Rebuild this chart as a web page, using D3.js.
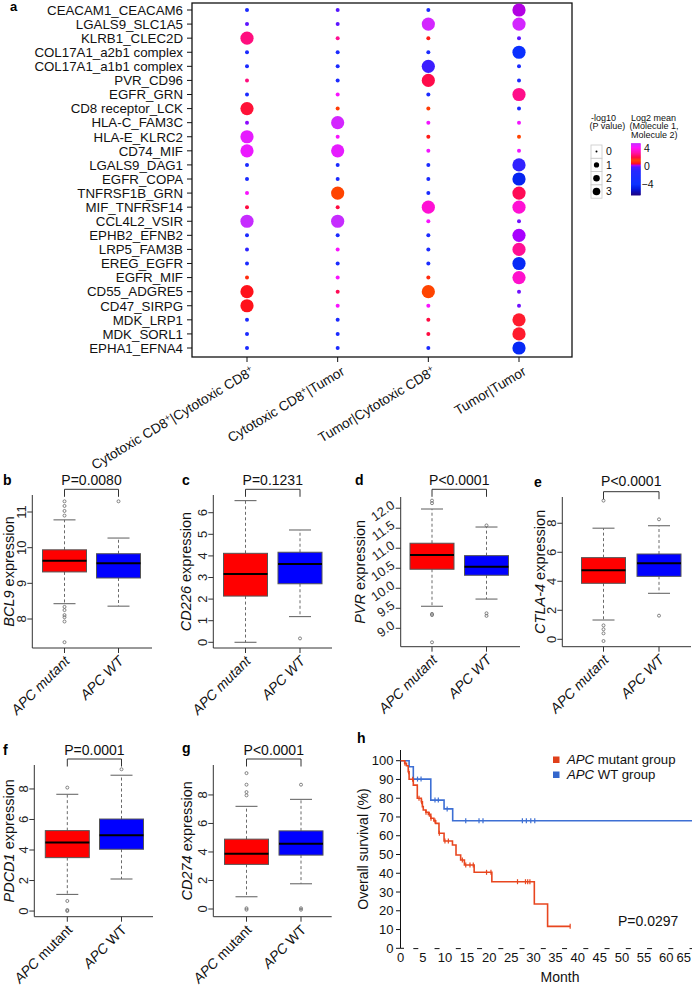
<!DOCTYPE html>
<html><head><meta charset="utf-8">
<script src="https://cdn.jsdelivr.net/npm/d3@7"></script>
<style>body{margin:0;background:#fff}svg{display:block;font-family:"Liberation Sans",Arial,sans-serif}</style>
</head><body><svg id="c" width="692" height="992"></svg>
<script>
// ---------------- DATA ----------------
const interactions = ["CEACAM1_CEACAM6","LGALS9_SLC1A5","KLRB1_CLEC2D","COL17A1_a2b1 complex","COL17A1_a1b1 complex","PVR_CD96","EGFR_GRN","CD8 receptor_LCK","HLA-C_FAM3C","HLA-E_KLRC2","CD74_MIF","LGALS9_DAG1","EGFR_COPA","TNFRSF1B_GRN","MIF_TNFRSF14","CCL4L2_VSIR","EPHB2_EFNB2","LRP5_FAM3B","EREG_EGFR","EGFR_MIF","CD55_ADGRE5","CD47_SIRPG","MDK_LRP1","MDK_SORL1","EPHA1_EFNA4"];
const cellPairs = ["Cytotoxic CD8+|Cytotoxic CD8+","Cytotoxic CD8+|Tumor","Tumor|Cytotoxic CD8+","Tumor|Tumor"];
// log2 mean (Molecule 1, Molecule 2) per interaction x pair
const logMeans = [
 [-2,-0.15,-2,0.25],[-0.1,-0.1,4.9,4.9],[2.6,2.8,0.8,-0.1],[-2,-2,-2,-4],[-2,-2,-0.5,-2],
 [2.6,-2,2.1,-2],[-2,4.3,-2,2.7],[1.9,1.2,1.2,-2],[0.1,4.9,4.4,4.4],[4.6,4.3,0.8,1.3],
 [4.5,4.6,4.4,4.4],[-2,-2,-2,-0.7],[-2,-2,-2,-4.5],[4.3,1.3,-2,2.2],[2.0,2.0,3.6,3.6],
 [5.1,5.1,4.3,0.0],[-2,-2,-2,0.2],[-0.8,4.3,-2,2.8],[-2,-2,-2,-4.3],[1.0,4.3,1.0,3.5],
 [0.7,2.2,1.3,0.0],[0.7,4.3,4.3,0.0],[-2,-2,2.0,1.8],[-2,-2,2.0,1.8],[-2,-2,-2,-4.3]];
// -log10(P value)
const negLogP = [
 [0,0,0,3],[0,0,3,3],[3,0,0,0],[0,0,0,3],[0,0,3,0],
 [0,0,3,0],[0,0,0,3],[3,0,0,0],[0,3,0,0],[3,0,0,0],
 [3,3,0,0],[0,0,0,3],[0,0,0,3],[0,3,0,3],[0,0,3,3],
 [3,3,0,0],[0,0,0,3],[0,0,0,3],[0,0,0,3],[0,0,0,3],
 [3,0,3,0],[3,0,0,0],[0,0,0,3],[0,0,0,3],[0,0,0,3]];
const sizeLegendValues = [0,1,2,3];
const colorLegendTicks = [4,0,-4];

const boxGroups = ["APC mutant","APC WT"];
const boxGenes = ["BCL9","CD226","PVR","CTLA-4","PDCD1","CD274"];
const boxPText = ["P=0.0080","P=0.1231","P<0.0001","P<0.0001","P=0.0001","P<0.0001"];
const boxTicks = [[8,9,10,11],[0,1,2,3,4,5,6],[9.0,9.5,10.0,10.5,11.0,11.5,12.0],[0,2,4,6,8],[0,2,4,6,8],[0,2,4,6,8]];
// [lower whisker, Q1, median, Q3, upper whisker]
const mutantStats = [[8.43,9.32,9.63,9.94,10.78],[0.0,2.14,3.16,4.12,6.56],[9.55,10.475,10.83,11.125,11.98],[1.33,3.86,4.76,5.63,7.66],[1.09,3.5,4.5,5.27,7.65],[0.86,3.13,3.87,4.9,7.2]];
const wtStats = [[8.36,9.15,9.56,9.83,10.27],[1.19,2.71,3.62,4.17,5.2],[9.73,10.325,10.54,10.815,11.53],[3.17,4.34,5.24,5.88,7.83],[2.1,4.05,4.96,6.03,8.9],[1.77,3.78,4.57,5.48,7.69]];
const mutantOutliers = [[11.30,11.17,11.03,10.90,8.34,8.25,8.11,8.05,7.93,7.35],[],[12.19,12.125,9.36,9.33,8.65],[9.56,0.96,0.69,0.41,-0.12],[8.09,0.66,0.07,0.0],[9.53,8.72,8.2,7.97,0.05,-0.05]];
const wtOutliers = [[11.3],[0.18],[11.57,9.375,9.31],[8.27,1.63],[9.29],[8.72,0.05,-0.05]];

const kmGroups = ["APC mutant group","APC WT group"];
const mutantSteps = [[0,100],[0.9,98.6],[1.3,97.3],[1.7,94.1],[1.9,90.1],[2.85,87],[3.75,80],[4.66,78.1],[4.9,75.5],[5.1,73.7],[5.7,72.5],[6.25,71.4],[6.8,69.3],[7.5,67.9],[7.9,66.6],[8.65,61.3],[9.8,57.2],[11.7,55.1],[12.5,49.7],[13.55,47.1],[14.4,44.4],[16.6,40.5],[20.6,35.5],[30.2,23.6],[33.2,11.7]];
const mutantEnd = 38.3;
const mutantCensor = [0.97,1.8,2.7,4.14,4.74,5.72,6.47,6.85,7.75,8.73,10.0,10.77,13.93,14.7,15.66,16.4,19.4,20.4,26.4,28.2,28.7,29.2,38.3];
const wtSteps = [[0,100],[1.9,96.8],[2.85,90.2],[6.8,79],[9.8,74.3],[11.75,68]];
const wtEnd = 66;
const wtCensor = [3.8,4.6,7.75,8.5,10.5,14.7,17.7,18.6,27.5,28.4,29.4,30.3];
const kmXTicks = [0,5,10,15,20,25,30,35,40,45,50,55,60,65];
const kmYTicks = [0,10,20,30,40,50,60,70,80,90,100];
const kmP = "P=0.0297";

// ---------------- DRAW ----------------
const svg = d3.select("#c");
const letter = (t,x,y)=>svg.append("text").attr("x",x).attr("y",y).attr("font-size",14).attr("font-weight","bold").text(t);

// ===== Panel a =====
const A = {left:192,right:572,top:3,bottom:357};
const yRow = d3.scalePoint().domain(interactions).range([10,348]);
const xCol = d3.scalePoint().domain(cellPairs).range([247,519]);
const rScale = d3.scaleLinear().domain([0,3]).range([2,6.6]);
const cStops = [-6.4,-5,-4,-1,-0.2,0,0.2,0.6,1.3,2,3,4.2,5.1];
const cCols = ["#1c0080","#0018e0","#0a30ff","#2428ff","#4a18ff","#7010ff","#a800ff","#ff0a20","#ff4400","#ff0a40","#ff10a8","#ff10ff","#c62cff"];
const color = d3.scaleLinear().domain(cStops).range(cCols).clamp(true);

svg.append("text").attr("x",10).attr("y",11).attr("font-size",13).attr("font-weight","bold").text("a");
const ga = svg.append("g");
ga.append("rect").attr("x",A.left).attr("y",A.top).attr("width",A.right-A.left).attr("height",A.bottom-A.top)
  .attr("fill","none").attr("stroke","#111").attr("stroke-width",1.3);
interactions.forEach((name,i)=>{
  const y=yRow(name);
  ga.append("line").attr("x1",A.left-5).attr("x2",A.left).attr("y1",y).attr("y2",y).attr("stroke","#111");
  ga.append("text").attr("x",A.left-9).attr("y",y).attr("dy","0.36em").attr("text-anchor","end")
    .attr("font-size",13.3).attr("fill","#111").text(name);
  cellPairs.forEach((p,j)=>{
    ga.append("circle").attr("cx",xCol(p)).attr("cy",y).attr("r",rScale(negLogP[i][j])).attr("fill",color(logMeans[i][j]));
  });
});
cellPairs.forEach(p=>{
  const x=xCol(p);
  ga.append("line").attr("x1",x).attr("x2",x).attr("y1",A.bottom).attr("y2",A.bottom+5).attr("stroke","#111");
  const t=ga.append("text").attr("transform",`translate(${x+8},${A.bottom+17}) rotate(-31)`)
    .attr("text-anchor","end").attr("font-size",13.5).attr("fill","#111");
  const toks=p.split(/(\+)/).filter(s=>s.length);
  let raised=false;
  toks.forEach(tok=>{
    if(tok==="+"){t.append("tspan").attr("font-size",9).attr("dy",-5).text("+");raised=true;}
    else{const ts=t.append("tspan").text(tok); if(raised){ts.attr("dy",5);raised=false;}}
  });
});
// legends
const lg = svg.append("g").attr("font-size",9).attr("fill","#111");
[["-log10",591,120.5],["(P value)",589.5,129]].forEach(d=>lg.append("text").attr("x",d[1]).attr("y",d[2]).text(d[0]));
[["Log2 mean",631,120.5],["(Molecule 1,",629.5,129],["Molecule 2)",631,137.5]].forEach(d=>lg.append("text").attr("x",d[1]).attr("y",d[2]).text(d[0]));
const legR = d3.scaleSqrt().domain([0,3]).range([1,3.8]);
sizeLegendValues.forEach((v,i)=>{
  const y0=145+i*13.3;
  lg.append("rect").attr("x",591).attr("y",y0).attr("width",11).attr("height",13.3).attr("fill","#fff").attr("stroke","#c8c8c8").attr("stroke-width",0.8);
  lg.append("circle").attr("cx",596.5).attr("cy",y0+6.6).attr("r",legR(v)).attr("fill","#000");
  lg.append("text").attr("x",606).attr("y",y0+6.6).attr("dy","0.36em").attr("font-size",10.5).text(v);
});
const cbY = d3.scaleLinear().domain([-4,4]).range([184,148]);
const cbVals = d3.range(-6.44,5.04,0.05);
cbVals.forEach(v=>{
  lg.append("rect").attr("x",631).attr("width",9.5).attr("y",cbY(v+0.05)).attr("height",Math.abs(cbY(v)-cbY(v+0.05))+0.4).attr("fill",color(v));
});
colorLegendTicks.forEach(v=>{
  lg.append("text").attr("x",v<0?641.5:644).attr("y",cbY(v)).attr("dy","0.36em").attr("font-size",10.5).text(v<0?"\u2212"+Math.abs(v):v);
});

// ===== Box plots =====
const boxLayout = [
 {L:"b",lx:3,ly:485,axisX:32.3,right:152,top:495,bottom:648,dom:[7.187,11.477],cats:[64.5,118.5],tOff:18.5,rot:-90,pY:485,brT:489.3,ital:true},
 {L:"c",lx:182,ly:485,axisX:213.3,right:332,top:495,bottom:648,dom:[-0.264,6.82],cats:[245.5,300],tOff:22.5,rot:-90,pY:485,brT:489.3,ital:true},
 {L:"d",lx:355,ly:485,axisX:400.7,right:520,top:497,bottom:646.7,dom:[8.54,12.28],cats:[432,486.5],tOff:35.5,rot:-35,pY:485,brT:489.3,ital:true},
 {L:"e",lx:534,ly:487,axisX:562.3,right:691,top:497,bottom:646.7,dom:[-0.51,9.81],cats:[603.5,659],tOff:17.5,rot:-90,pY:486,brT:491.7,ital:true},
 {L:"f",lx:3,ly:755,axisX:34.3,right:153,top:765,bottom:916.7,dom:[-0.37,9.57],cats:[67.3,121.5],tOff:20.5,rot:-90,pY:755,brT:759,ital:false},
 {L:"g",lx:182,ly:753,axisX:213.3,right:331.7,top:765,bottom:916.7,dom:[-0.54,10.1],cats:[246.5,301],tOff:21.5,rot:-90,pY:755,brT:759,ital:false}
];
const boxFill = ["#ff0000","#0000ff"];
boxLayout.forEach((P,k)=>{
  letter(P.L,P.lx,P.ly);
  const g=svg.append("g");
  const y=d3.scaleLinear().domain(P.dom).range([P.bottom,P.top]);
  const x=d3.scalePoint().domain(boxGroups).range(P.cats);
  const hw=22;
  [mutantStats[k],wtStats[k]].forEach((s,gi)=>{
    const cx=x(boxGroups[gi]);
    const wc="#6a6a6a";
    g.append("line").attr("x1",cx).attr("x2",cx).attr("y1",y(s[3])).attr("y2",y(s[4])).attr("stroke",wc).attr("stroke-dasharray","3,2.5");
    g.append("line").attr("x1",cx).attr("x2",cx).attr("y1",y(s[1])).attr("y2",y(s[0])).attr("stroke",wc).attr("stroke-dasharray","3,2.5");
    [s[0],s[4]].forEach(v=>g.append("line").attr("x1",cx-11).attr("x2",cx+11).attr("y1",y(v)).attr("y2",y(v)).attr("stroke",wc).attr("stroke-width",1.1));
    g.append("rect").attr("x",cx-hw).attr("width",2*hw).attr("y",y(s[3])).attr("height",y(s[1])-y(s[3]))
      .attr("fill",boxFill[gi]).attr("stroke","#555").attr("stroke-width",1);
    g.append("line").attr("x1",cx-hw).attr("x2",cx+hw).attr("y1",y(s[2])).attr("y2",y(s[2])).attr("stroke","#000").attr("stroke-width",2);
    [mutantOutliers[k],wtOutliers[k]][gi].forEach(v=>g.append("circle").attr("cx",cx).attr("cy",y(v)).attr("r",1.5)
      .attr("fill","none").attr("stroke","#666").attr("stroke-width",0.8));
    g.append("line").attr("x1",cx).attr("x2",cx).attr("y1",P.bottom).attr("y2",P.bottom+5).attr("stroke","#333");
    const lab=g.append("text").attr("transform",`translate(${cx+6},${P.bottom+14}) rotate(-45)`).attr("text-anchor","end")
      .attr("font-size",14).attr("fill","#111");
    const parts=boxGroups[gi].split(" ");
    lab.append("tspan").attr("font-style","italic").text(parts[0]);
    lab.append("tspan").attr("font-style",P.ital?"italic":"normal").text(" "+parts.slice(1).join(" "));
  });
  g.append("path").attr("d",`M${P.axisX},${P.top}V${P.bottom}H${P.right}`).attr("fill","none").attr("stroke","#333").attr("stroke-width",1);
  boxTicks[k].forEach(v=>{
    g.append("line").attr("x1",P.axisX-5).attr("x2",P.axisX).attr("y1",y(v)).attr("y2",y(v)).attr("stroke","#333");
    const lbl = (k===2)? d3.format(".1f")(v) : String(v);
    if(P.rot===-90){
      g.append("text").attr("transform",`translate(${P.axisX-6},${y(v)}) rotate(-90)`).attr("text-anchor","middle")
        .attr("font-size",13).attr("fill","#222").text(lbl);
    } else {
      g.append("text").attr("transform",`translate(${P.axisX-5},${y(v)-1}) rotate(${P.rot})`).attr("text-anchor","end")
        .attr("font-size",13).attr("fill","#222").text(lbl);
    }
  });
  const tt=g.append("text").attr("transform",`translate(${P.axisX-P.tOff},${(P.top+P.bottom)/2}) rotate(-90)`)
    .attr("text-anchor","middle").attr("font-size",14.5).attr("fill","#111");
  tt.append("tspan").attr("font-style","italic").text(boxGenes[k]);
  tt.append("tspan").text(" expression");
  const x1=x(boxGroups[0]), x2=x(boxGroups[1]);
  g.append("path").attr("d",`M${x1},${P.brT+7.5}V${P.brT}H${x2}V${P.brT+7.5}`).attr("fill","none").attr("stroke","#333").attr("stroke-width",1);
  g.append("text").attr("x",(x1+x2)/2).attr("y",P.pY).attr("text-anchor","middle").attr("font-size",14).attr("fill","#111").text(boxPText[k]);
});

// ===== Panel h: KM =====
letter("h",357,743);
const gh=svg.append("g");
const kx=d3.scaleLinear().domain([0,65]).range([400.7,688.3]);
const ky=d3.scaleLinear().domain([0,100]).range([948.3,760.7]);
gh.append("line").attr("x1",400.5).attr("x2",400.5).attr("y1",750).attr("y2",948.3).attr("stroke","#111");
kmYTicks.forEach(v=>{
  gh.append("line").attr("x1",396).attr("x2",400.5).attr("y1",ky(v)).attr("y2",ky(v)).attr("stroke","#111");
  gh.append("text").attr("x",393.5).attr("y",ky(v)).attr("dy","0.36em").attr("text-anchor","end").attr("font-size",13).attr("fill","#111").text(v);
});
gh.append("line").attr("x1",400.5).attr("x2",404).attr("y1",948.3).attr("y2",948.3).attr("stroke","#111");
gh.append("line").attr("x1",413.3).attr("x2",692).attr("y1",948.6).attr("y2",948.6).attr("stroke","#111").attr("stroke-dasharray","5,16.25");
kmXTicks.forEach((v,i)=>{
  const last=i===kmXTicks.length-1;
  gh.append("text").attr("x",last?691:kx(v)).attr("y",962).attr("text-anchor",last?"end":"middle").attr("font-size",13).attr("fill","#111").text(v);
});
gh.append("text").attr("x",560).attr("y",982).attr("text-anchor","middle").attr("font-size",14).attr("fill","#111").text("Month");
gh.append("text").attr("transform","translate(368,849) rotate(-90)").attr("text-anchor","middle").attr("font-size",14).attr("fill","#111").text("Overall survival (%)");
const survAt=(steps,t)=>{let s=steps[0][1];steps.forEach(d=>{if(d[0]<=t)s=d[1];});return s;};
const kmLine=d3.line().x(d=>kx(d[0])).y(d=>ky(d[1])).curve(d3.curveStepAfter);
const kmCol=["#e8461f","#3d6fd4"];
[[wtSteps,wtEnd,wtCensor,1],[mutantSteps,mutantEnd,mutantCensor,0]].forEach(([steps,end,cens,ci])=>{
  const pts=steps.concat([[end,steps[steps.length-1][1]]]);
  gh.append("path").attr("d",kmLine(pts)).attr("fill","none").attr("stroke",kmCol[ci]).attr("stroke-width",1.6);
  cens.forEach(t=>{
    const yy=ky(survAt(steps,t));
    gh.append("line").attr("x1",kx(t)).attr("x2",kx(t)).attr("y1",yy-2.5).attr("y2",yy+2.5).attr("stroke",kmCol[ci]).attr("stroke-width",1.2);
  });
});
kmGroups.forEach((name,i)=>{
  const yy=756.5+i*15;
  gh.append("rect").attr("x",553).attr("y",yy).attr("width",6.5).attr("height",6.5).attr("fill",i===0?"#e0401a":"#3366cc");
  const t=gh.append("text").attr("x",567).attr("y",yy+7.2).attr("font-size",13.2).attr("fill","#111");
  const parts=name.split(" ");
  t.append("tspan").attr("font-style","italic").text(parts[0]);
  t.append("tspan").text(" "+parts.slice(1).join(" "));
});
gh.append("text").attr("x",618).attr("y",926).attr("font-size",14).attr("fill","#111").text(kmP);
</script></body></html>
